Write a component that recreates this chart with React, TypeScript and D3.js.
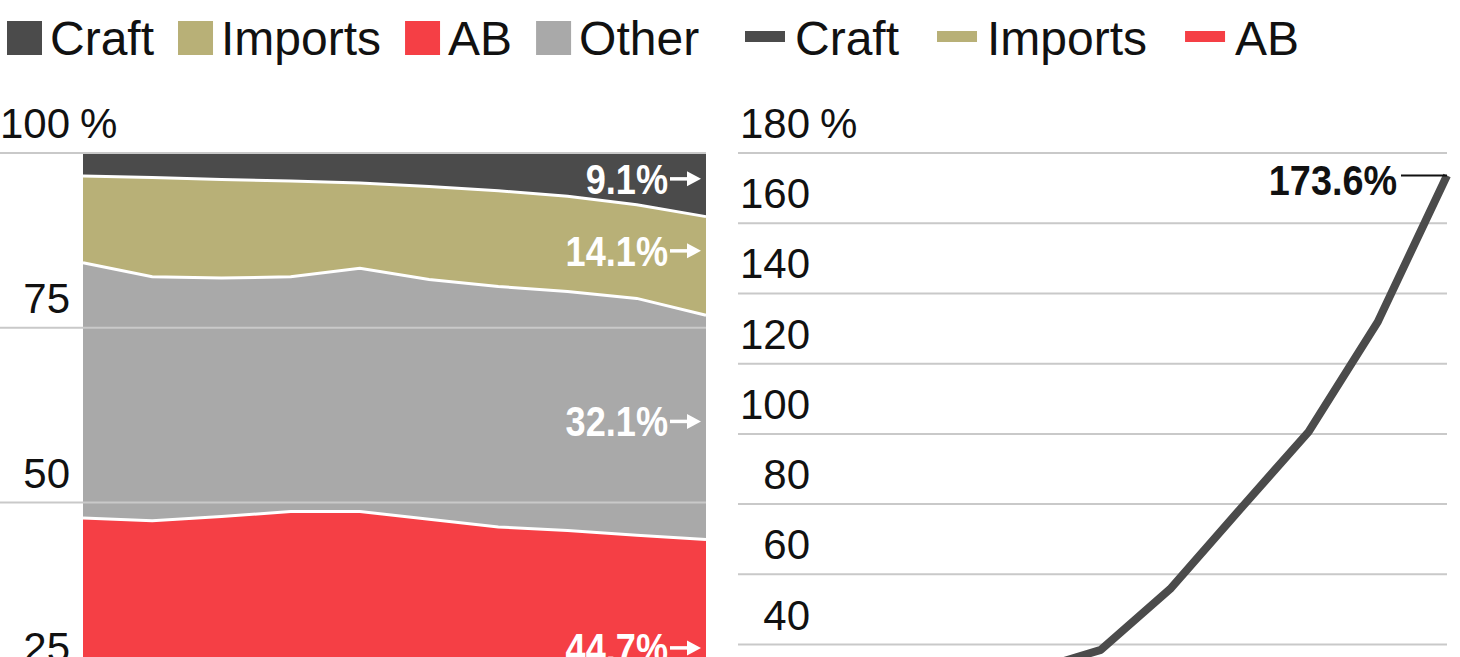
import { useEffect, useRef } from 'react';
import * as d3 from 'd3';

// Market share by volume, % (stacked, bottom to top: AB, Other, Imports, Craft)
const years = [2005, 2006, 2007, 2008, 2009, 2010, 2011, 2012, 2013, 2014];
const craftShare = [3.3, 3.5, 3.8, 4.0, 4.3, 4.8, 5.4, 6.2, 7.4, 9.1];
const importsShare = [12.4, 14.2, 14.1, 13.7, 12.2, 13.3, 13.7, 13.6, 13.4, 14.1];
const otherShare = [36.5, 34.9, 34.1, 33.6, 34.8, 34.3, 34.4, 34.2, 33.9, 32.1];
const abShare = [47.8, 47.4, 48.0, 48.7, 48.7, 47.6, 46.5, 46.0, 45.3, 44.7];

// Cumulative volume change since 2005, %
const craftGrowth = [0, 12, 23, 32.5, 38.5, 55.8, 78.3, 100.6, 131.9, 173.6];
const importsGrowth = [0, 6, 9, 4, -4, 0, 3, 7, 11, 17];
const abGrowth = [0, -1, -3, -5, -8, -11, -13, -15, -17, -19];

const shareTicks = [25, 50, 75, 100];
const growthTicks = [20, 40, 60, 80, 100, 120, 140, 160, 180];

// where each end-of-series share label sits, in % of the left axis
const shareLabelAt = [96.3, 86.0, 61.6, 29.2];

const COLORS: Record<string, string> = {
  craft: '#4b4b4b',
  imports: '#b8b077',
  ab: '#f53f45',
  other: '#a9a9a9',
};

const FONT = "'Liberation Sans', Arial, sans-serif";

export default function App() {
  const svgRef = useRef<SVGSVGElement>(null);
  const width = 1460;
  const height = 657;

  useEffect(() => {
    if (!svgRef.current) return;
    const svg = d3.select(svgRef.current);
    svg.selectAll('*').remove();

    // ---------- left: share of volume ----------
    const xL = d3.scaleLinear().domain(d3.extent(years) as [number, number]).range([83, 706]);
    const yL = d3.scaleLinear().domain([0, 100]).range([852, 153]);

    const rows = years.map((year, i) => ({
      year,
      ab: abShare[i],
      other: otherShare[i],
      imports: importsShare[i],
      craft: craftShare[i],
    }));
    const keys = ['ab', 'other', 'imports', 'craft'];
    const series = d3.stack<any>().keys(keys)(rows);

    const area = d3.area<any>()
      .x(d => xL(d.data.year))
      .y0(d => yL(d[0]))
      .y1(d => yL(d[1]));

    const left = svg.append('g');
    left.selectAll('.layer')
      .data(series)
      .join('path')
      .attr('class', 'layer')
      .attr('fill', d => COLORS[d.key])
      .attr('d', area);

    // white separators on top of each inner layer
    const topLine = d3.line<any>().x(d => xL(d.data.year)).y(d => yL(d[1]));
    left.selectAll('.sep')
      .data(series.slice(0, series.length - 1))
      .join('path')
      .attr('class', 'sep')
      .attr('fill', 'none')
      .attr('stroke', '#fff')
      .attr('stroke-width', 3)
      .attr('d', d => topLine(d as any));

    // grid
    left.selectAll('.grid')
      .data(shareTicks)
      .join('line')
      .attr('class', 'grid')
      .attr('x1', 0)
      .attr('x2', xL.range()[1])
      .attr('y1', d => yL(d))
      .attr('y2', d => yL(d))
      .attr('stroke', '#c9c9c9')
      .attr('stroke-width', 2);

    // tick labels
    const tickLX = 70;
    left.selectAll('.tick')
      .data(shareTicks)
      .join('text')
      .attr('class', 'tick')
      .attr('x', tickLX)
      .attr('y', d => yL(d) - 15)
      .attr('text-anchor', 'end')
      .style('font-family', FONT)
      .style('font-size', '42px')
      .style('fill', '#111')
      .text(d => String(d));
    left.append('text')
      .attr('x', tickLX + 10)
      .attr('y', yL(d3.max(shareTicks)!) - 15)
      .style('font-family', FONT)
      .style('font-size', '42px')
      .style('fill', '#111')
      .text('%');

    // end labels with arrows (bold, squeezed to look condensed)
    const last = years.length - 1;
    const labelRows = [...series].reverse().map((s, i) => ({
      key: s.key,
      value: s[last][1] - s[last][0],
      at: shareLabelAt[i],
    }));
    const lab = left.selectAll('.endlab')
      .data(labelRows)
      .join('g')
      .attr('class', 'endlab')
      .attr('transform', d => `translate(0,${yL(d.at)})`);
    lab.append('text')
      .attr('transform', 'translate(668,15) scale(0.86,1)')
      .attr('text-anchor', 'end')
      .style('font-family', FONT)
      .style('font-size', '42px')
      .style('font-weight', 'bold')
      .style('fill', '#fff')
      .text(d => `${d.value.toFixed(1)}%`);
    lab.append('line')
      .attr('x1', 670)
      .attr('x2', 690)
      .attr('y1', 0)
      .attr('y2', 0)
      .attr('stroke', '#fff')
      .attr('stroke-width', 3.5);
    lab.append('path')
      .attr('d', 'M687,-7.5L701,0L687,7.5Z')
      .attr('fill', '#fff');

    // legend (squares)
    const legNames: Record<string, string> = { craft: 'Craft', imports: 'Imports', ab: 'AB', other: 'Other' };
    const legL = svg.append('g');
    let lx = 7;
    ['craft', 'imports', 'ab', 'other'].forEach(k => {
      legL.append('rect')
        .attr('x', lx).attr('y', 21).attr('width', 35).attr('height', 34)
        .attr('fill', COLORS[k]);
      const t = legL.append('text')
        .attr('x', lx + 43).attr('y', 55)
        .style('font-family', FONT)
        .style('font-size', '48px')
        .style('fill', '#111')
        .text(legNames[k]);
      lx += 43 + (t.node() as SVGTextElement).getComputedTextLength() + 24;
    });

    // ---------- right: cumulative change ----------
    const xR = d3.scaleLinear().domain(d3.extent(years) as [number, number]).range([824, 1447]);
    const yR = d3.scaleLinear().domain([0, 180]).range([785, 153]);
    const right = svg.append('g');

    right.selectAll('.grid')
      .data(growthTicks)
      .join('line')
      .attr('class', 'grid')
      .attr('x1', 738)
      .attr('x2', xR.range()[1])
      .attr('y1', d => yR(d))
      .attr('y2', d => yR(d))
      .attr('stroke', '#c9c9c9')
      .attr('stroke-width', 2);

    const tickRX = 810;
    right.selectAll('.tick')
      .data(growthTicks)
      .join('text')
      .attr('class', 'tick')
      .attr('x', tickRX)
      .attr('y', d => yR(d) - 15)
      .attr('text-anchor', 'end')
      .style('font-family', FONT)
      .style('font-size', '42px')
      .style('fill', '#111')
      .text(d => String(d));
    right.append('text')
      .attr('x', tickRX + 10)
      .attr('y', yR(d3.max(growthTicks)!) - 15)
      .style('font-family', FONT)
      .style('font-size', '42px')
      .style('fill', '#111')
      .text('%');

    const lineGen = d3.line<number>()
      .x((_, i) => xR(years[i]))
      .y(d => yR(d));
    const lines = [
      { key: 'ab', values: abGrowth },
      { key: 'imports', values: importsGrowth },
      { key: 'craft', values: craftGrowth },
    ];
    right.selectAll('.series')
      .data(lines)
      .join('path')
      .attr('class', 'series')
      .attr('fill', 'none')
      .attr('stroke', d => COLORS[d.key])
      .attr('stroke-width', 8)
      .attr('stroke-linejoin', 'round')
      .attr('d', d => lineGen(d.values));

    const endX = xR(years[last]);
    const endY = yR(craftGrowth[last]);
    right.append('line')
      .attr('x1', endX - 46)
      .attr('x2', endX)
      .attr('y1', endY)
      .attr('y2', endY)
      .attr('stroke', '#111')
      .attr('stroke-width', 2);
    right.append('text')
      .attr('transform', `translate(${endX - 50},${endY + 20}) scale(0.9,1)`)
      .attr('text-anchor', 'end')
      .style('font-family', FONT)
      .style('font-size', '42px')
      .style('font-weight', 'bold')
      .style('fill', '#111')
      .text(`${craftGrowth[last].toFixed(1)}%`);

    // legend (line swatches)
    const legR = svg.append('g');
    let rx = 745;
    ['craft', 'imports', 'ab'].forEach(k => {
      legR.append('rect')
        .attr('x', rx).attr('y', 31).attr('width', 40).attr('height', 11)
        .attr('fill', COLORS[k]);
      const t = legR.append('text')
        .attr('x', rx + 50).attr('y', 55)
        .style('font-family', FONT)
        .style('font-size', '48px')
        .style('fill', '#111')
        .text(legNames[k]);
      rx += 50 + (t.node() as SVGTextElement).getComputedTextLength() + 38;
    });
  }, []);

  return (
    <svg
      ref={svgRef}
      width={width}
      height={height}
      viewBox={`0 0 ${width} ${height}`}
      style={{ position: 'absolute', left: 0, top: 0, background: '#fff' }}
    />
  );
}
